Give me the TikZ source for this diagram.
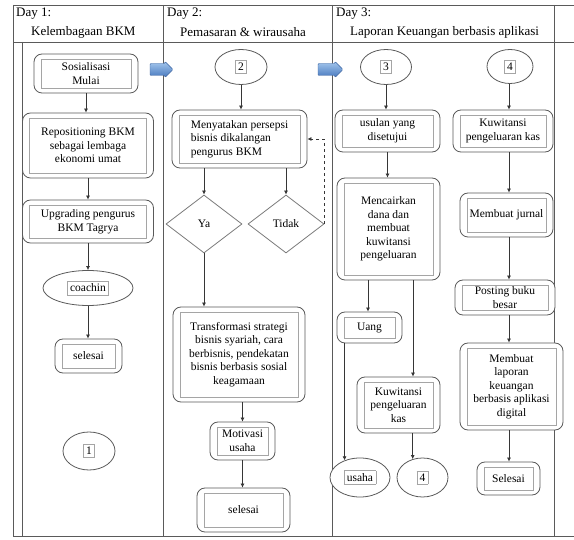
\documentclass[tikz,border=0pt]{standalone}
\usepackage{fontspec}
\setmainfont{Liberation Serif}
\usetikzlibrary{shapes.geometric,arrows.meta,calc}
\definecolor{ln}{RGB}{90,90,90}
\definecolor{inr}{RGB}{165,165,165}
\definecolor{blk}{RGB}{60,100,160}
\tikzset{
  grid/.style={draw=ln,line width=0.7pt},
  sz/.style 2 args={minimum width=#1pt,minimum height=#2pt},
  box/.style={draw=ln,line width=0.8pt,rounded corners=8pt,fill=white,align=center,inner sep=0pt,
    font=\fontsize{11.5}{13.6}\selectfont,
    path picture={\draw[inr,line width=0.5pt,sharp corners]
      ([xshift=7pt,yshift=-5pt]path picture bounding box.north west) rectangle
      ([xshift=-7pt,yshift=5pt]path picture bounding box.south east);}},
  oval/.style={ellipse,draw=ln,line width=0.8pt,fill=white,inner sep=0pt,font=\fontsize{11.5}{13.6}\selectfont},
  dia/.style={diamond,draw=ln!80,line width=0.8pt,fill=white,inner sep=0pt,font=\fontsize{11.5}{13.6}\selectfont},
  arr/.style={draw=ln!60!black,line width=0.7pt,-{Latex[length=4pt,width=4pt]}},
  blockarrow/.style={draw=blk,line width=0.4pt,rounded corners=1pt,top color={rgb,255:red,165;green,200;blue,238},
    bottom color={rgb,255:red,70;green,120;blue,190}},
  hdr/.style={font=\fontsize{13}{15}\selectfont,anchor=west,inner sep=0pt},
}
\newcommand{\numbox}[1]{{\setlength{\fboxsep}{2.5pt}\setlength{\fboxrule}{0.5pt}\fcolorbox{inr}{white}{#1}}}
\begin{document}
\begin{tikzpicture}[x=1pt,y=-1pt]
\useasboundingbox[fill=white] (0,0) rectangle (574,540);
% table grid
\draw[grid] (13,5) -- (574,5);
\draw[grid] (13,42) -- (574,42);
\draw[grid] (13,536) -- (574,536);
\draw[grid] (13,5) -- (13,536);
\draw[grid] (22,42) -- (22,536);
\draw[grid] (163,5) -- (163,536);
\draw[grid] (332,5) -- (332,536);
\draw[grid] (554,5) -- (554,536);
% headers
\node[hdr] (h1) at (16,14) {Day 1:};
\node[hdr] (h1b) at (31,32) {Kelembagaan BKM};
\node[hdr] (h2) at (167,14) {Day 2:};
\node[hdr] (h2b) at (180,32) {Pemasaran \& wirausaha};
\node[hdr] (h3) at (336,14) {Day 3:};
\node[hdr] (h3b) at (350,32) {Laporan Keuangan berbasis aplikasi};
% block arrows
\path[blockarrow] (150,63.5) -- (165,63.5) -- (165,61.5) -- (173,69.5) -- (165,77.5) -- (165,75.5) -- (150,75.5) -- cycle;
\path[blockarrow] (318,63.5) -- (335,63.5) -- (335,61.5) -- (343,69.5) -- (335,77.5) -- (335,75.5) -- (318,75.5) -- cycle;
% Day 1
\node[box,sz={104}{39}] (s1) at (86,73.5) {Sosialisasi\\Mulai};
\node[box,sz={131}{65}] (s2) at (88,145.5) {Repositioning BKM\\sebagai lembaga\\ekonomi umat};
\node[box,sz={131}{43}] (s3) at (88,221.5) {Upgrading pengurus\\BKM Tagrya};
\node[oval,sz={90}{35}] (s4) at (88,288) {\numbox{coachin}};
\node[box,sz={67}{34}] (s5) at (88.5,356) {selesai};
\node[oval,sz={52}{38}] (s6) at (89,451) {\numbox{1}};
\draw[arr] (s1.south) -- (s1.south |- s2.north);
\draw[arr] (s2.south) -- (s2.south |- s3.north);
\draw[arr] (s3.south) -- (s3.south |- s4.north);
\draw[arr] (s4.south) -- (s4.south |- s5.north);
% Day 2
\node[oval,sz={52}{35}] (d0) at (241,67) {\numbox{2}};
\node[box,sz={135}{58},align=left] (d1) at (239.5,139) {Menyatakan persepsi\\bisnis dikalangan\\pengurus BKM};
\node[dia,sz={76}{58}] (ya) at (204,224) {Ya};
\node[dia,sz={76}{58}] (tidak) at (286,224) {Tidak};
\node[box,sz={132}{95}] (d2) at (239,354.5) {Transformasi strategi\\bisnis syariah, cara\\berbisnis, pendekatan\\bisnis berbasis sosial\\keagamaan};
\node[box,sz={65}{38}] (d3) at (242.5,441) {Motivasi\\usaha};
\node[box,sz={93}{44}] (d4) at (243.5,510) {selesai};
\draw[arr] (d0.south) -- (d0.south |- d1.north);
\draw[arr] (d1.south -| ya.north) -- (ya.north);
\draw[arr] (d1.south -| tidak.north) -- (tidak.north);
\draw[arr,dashed] (tidak.east) |- (d1.east);
\draw[arr] (ya.south) -- (ya.south |- d2.north);
\draw[arr] (d2.south -| d3.north) -- (d3.north);
\draw[arr] (d3.south) -- (d3.south |- d4.north);
% Day 3 left
\node[oval,sz={51}{35}] (e0) at (386,67) {\numbox{3}};
\node[box,sz={105}{42}] (t1) at (387.5,131) {usulan yang\\disetujui};
\node[box,sz={103}{102}] (t2) at (388.5,229) {Mencairkan\\dana dan\\membuat\\kuwitansi\\pengeluaran};
\node[box,sz={65}{31}] (t3) at (369.5,327.5) {Uang};
\node[box,sz={83}{56}] (t4) at (398.5,405) {Kuwitansi\\pengeluaran\\kas};
\node[oval,sz={60}{39}] (t5) at (360,477.5) {\numbox{usaha}};
\node[oval,sz={51}{39}] (t6) at (422.5,477.5) {\numbox{4}};
\coordinate (xa) at (368,0);
\coordinate (xb) at (413,0);
\draw[arr] (e0.south) -- (e0.south |- t1.north);
\draw[arr] (t1.south) -- (t1.south |- t2.north);
\draw[arr] (t2.south -| xa) -- (t3.north -| xa);
\draw[arr] (t2.south -| xb) -- (t4.north -| xb);
\draw[arr] (t3.south -| t5.132) -- (t5.132);
\draw[arr] (t4.south -| t6.118) -- (t6.118);
% Day 3 right
\node[oval,sz={46}{34}] (r0) at (510,66.5) {\numbox{4}};
\node[box,sz={100}{42}] (r1) at (503,131) {Kuwitansi\\pengeluaran kas};
\node[box,sz={93}{44}] (r2) at (506.5,215) {Membuat jurnal};
\node[box,sz={100}{35}] (r3) at (505,297.5) {Posting buku\\besar};
\node[box,sz={103}{87}] (r4) at (511.5,386.5) {Membuat\\laporan\\keuangan\\berbasis aplikasi\\digital};
\node[box,sz={63}{33}] (r5) at (508.5,478.5) {Selesai};
\coordinate (xr) at (509,0);
\draw[arr] (r0.south -| xr) -- (r1.north -| xr);
\draw[arr] (r1.south -| xr) -- (r2.north -| xr);
\draw[arr] (r2.south -| xr) -- (r3.north -| xr);
\draw[arr] (r3.south -| xr) -- (r4.north -| xr);
\draw[arr] (r4.south -| xr) -- (r5.north -| xr);
\end{tikzpicture}
\end{document}
